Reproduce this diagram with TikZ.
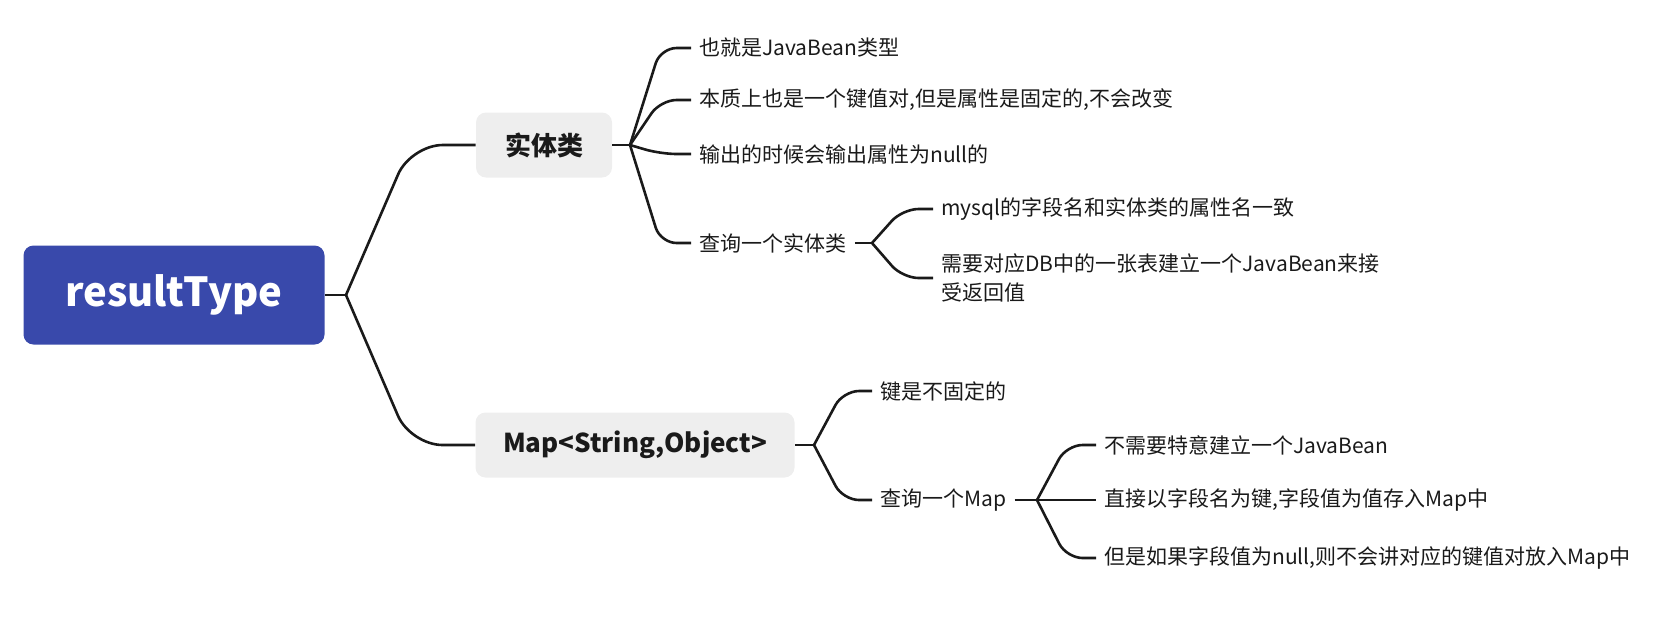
\documentclass[tikz,border=0pt]{standalone}
\usepackage{fontspec}
\setmainfont{Noto Sans CJK SC}
\usetikzlibrary{calc}
\definecolor{rindigo}{HTML}{3949AB}
\definecolor{rgrey}{HTML}{EEEEEE}
\definecolor{rink}{HTML}{1A1A1A}
\tikzset{
  rootbox/.style={
    fill=rindigo, text=white, rounded corners=5pt,
    minimum width=150.5pt, minimum height=49.5pt,
    font=\fontsize{20}{24}\selectfont\bfseries
  },
  topic/.style={
    fill=rgrey, text=rink, rounded corners=5pt,
    minimum height=32.5pt, font=\fontsize{13}{16}\selectfont\bfseries
  },
  leaf/.style={
    anchor=west, text=rink, inner xsep=4pt, inner ysep=2pt, align=left,
    font=\fontsize{10.5}{14.5}\selectfont
  },
  branch/.style={draw=rink, line width=1.3pt, rounded corners=#1},
  branch/.default=8pt
}

\begin{document}
\begin{tikzpicture}[x=0.5pt, y=-0.5pt]
  \useasboundingbox (0,0) rectangle (1668,623);

  % main topics
  \node[rootbox] (root) at (174,295) {resultType};
  \node[topic, minimum width=68pt] (ent) at (544,145) {实体类};
  \node[topic, minimum width=159.5pt] (map) at (635,445) {Map<String,Object>};

  % branch points
  \coordinate (rootbp) at (346,295);
  \coordinate (entbp) at (630,145);
  \coordinate (qentbp) at (872,243);
  \coordinate (mapbp) at (814,445);
  \coordinate (qmapbp) at (1037,500);

  % entity leaves
  \node[leaf] (e1) at (691,48) {也就是JavaBean类型};
  \node[leaf] (e2) at (691,100) {本质上也是一个键值对,但是属性是固定的,不会改变};
  \node[leaf] (e3) at (691,154) {输出的时候会输出属性为null的};
  \node[leaf] (e4) at (691,243) {查询一个实体类};
  \node[leaf] (q1) at (933,209) {mysql的字段名和实体类的属性名一致};
  \node[leaf] (q2) at (933,278) {需要对应DB中的一张表建立一个JavaBean来接\\受返回值};

  % map leaves
  \node[leaf] (m1) at (872,391) {键是不固定的};
  \node[leaf] (m2) at (872,500) {查询一个Map};
  \node[leaf] (r1) at (1096,445) {不需要特意建立一个JavaBean};
  \node[leaf] (r2) at (1096,500) {直接以字段名为键,字段值为值存入Map中};
  \node[leaf] (r3) at (1096,558) {但是如果字段值为null,则不会讲对应的键值对放入Map中};

  % stubs
  \draw[branch] (root.east) -- (rootbp);
  \draw[branch] (ent.east) -- (entbp);
  \draw[branch] (map.east) -- (mapbp);
  \draw[branch] (e4.east) -- (qentbp);
  \draw[branch] (m2.east) -- (qmapbp);

  % connectors: diagonal, then round into the horizontal
  \draw[branch=16pt] (rootbp) -- ($(rootbp |- ent.west)!0.5!(ent.west)$) -- (ent.west);
  \draw[branch=16pt] (rootbp) -- ($(rootbp |- map.west)!0.5!(map.west)$) -- (map.west);

  \draw[branch] (entbp) -- ($(entbp |- e1.west)!0.5!(e1.west)$) -- (e1.west);
  \draw[branch] (entbp) -- ($(entbp |- e2.west)!0.5!(e2.west)$) -- (e2.west);
  \draw[branch] (entbp) -- ($(entbp |- e3.west)!0.5!(e3.west)$) -- (e3.west);
  \draw[branch] (entbp) -- ($(entbp |- e4.west)!0.5!(e4.west)$) -- (e4.west);
  \draw[branch] (qentbp) -- ($(qentbp |- q1.west)!0.5!(q1.west)$) -- (q1.west);
  \draw[branch] (qentbp) -- ($(qentbp |- q2.west)!0.5!(q2.west)$) -- (q2.west);

  \draw[branch] (mapbp) -- ($(mapbp |- m1.west)!0.5!(m1.west)$) -- (m1.west);
  \draw[branch] (mapbp) -- ($(mapbp |- m2.west)!0.5!(m2.west)$) -- (m2.west);
  \draw[branch] (qmapbp) -- ($(qmapbp |- r1.west)!0.5!(r1.west)$) -- (r1.west);
  \draw[branch] (qmapbp) -- (r2.west);
  \draw[branch] (qmapbp) -- ($(qmapbp |- r3.west)!0.5!(r3.west)$) -- (r3.west);
\end{tikzpicture}
\end{document}
